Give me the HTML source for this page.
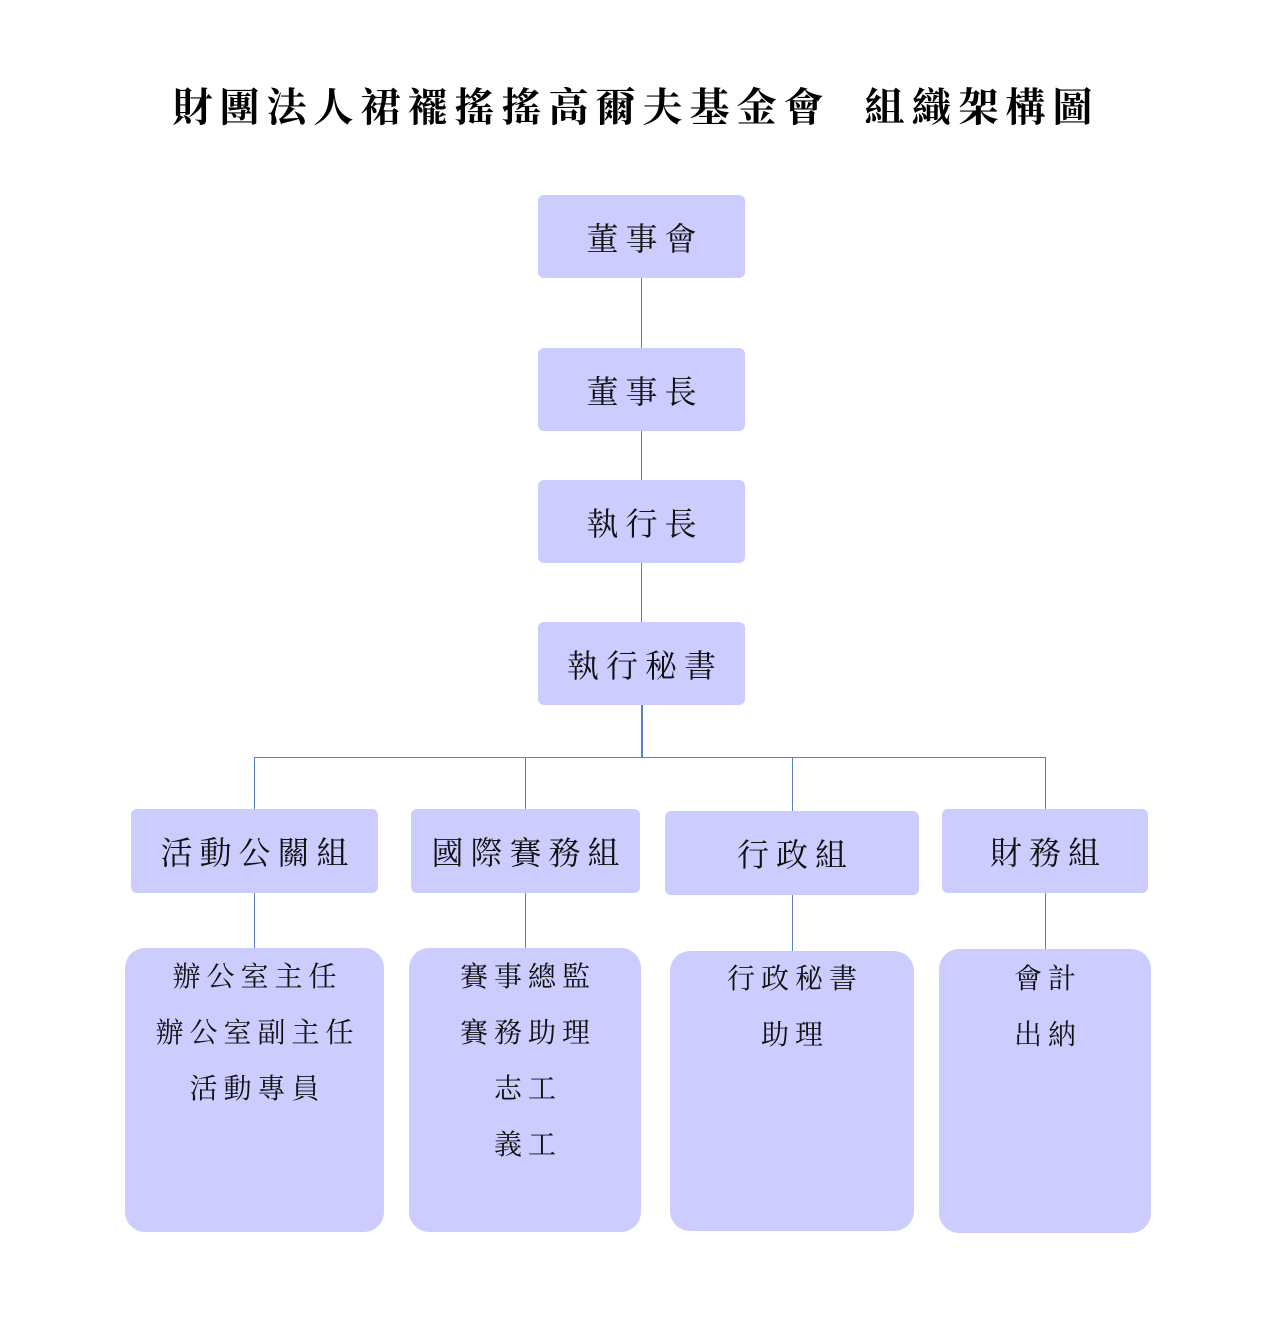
<!DOCTYPE html>
<html><head><meta charset="utf-8"><style>
body{margin:0;width:1265px;height:1344px;background:#fff;position:relative;font-family:"Liberation Serif","Noto Serif CJK SC",serif;overflow:hidden}
.b{position:absolute;background:#ccccff;border-radius:6px;display:flex;align-items:center;justify-content:center;font-size:32px;letter-spacing:7px;color:#111;padding-left:7px;box-sizing:border-box}
.l{position:absolute;background:#ccccff;border-radius:20px;text-align:center;font-size:28px;line-height:56px;letter-spacing:6px;padding-left:6px;color:#111;box-sizing:border-box}
.v{position:absolute;width:1px;background:#5b7fc0}
.h{position:absolute;height:1px;background:#5b7fc0}
.t{position:absolute;left:0;width:1265px;top:76px;text-align:center;font-size:40px;font-weight:bold;letter-spacing:7px;padding-left:7px;box-sizing:border-box;white-space:pre}
</style></head><body>
<div class="t">財團法人裙襬搖搖高爾夫基金會  組織架構圖</div>
<div class="v" style="left:641px;top:278px;height:429px"></div>
<div class="v" style="left:641px;top:705px;height:53px;width:2px"></div>
<div class="h" style="left:254px;top:757px;width:792px"></div>
<div class="v" style="left:254px;top:757px;height:52px"></div>
<div class="v" style="left:525px;top:757px;height:52px"></div>
<div class="v" style="left:792px;top:757px;height:54px"></div>
<div class="v" style="left:1045px;top:757px;height:52px"></div>
<div class="v" style="left:254px;top:893px;height:56px"></div>
<div class="v" style="left:525px;top:893px;height:56px"></div>
<div class="v" style="left:792px;top:895px;height:56px"></div>
<div class="v" style="left:1045px;top:893px;height:56px"></div>
<div class="b" style="left:538px;top:195px;width:207px;height:83px">董事會</div>
<div class="b" style="left:538px;top:348px;width:207px;height:83px">董事長</div>
<div class="b" style="left:538px;top:480px;width:207px;height:83px">執行長</div>
<div class="b" style="left:538px;top:622px;width:207px;height:83px">執行秘書</div>
<div class="b" style="left:131px;top:809px;width:247px;height:84px">活動公關組</div>
<div class="b" style="left:411px;top:809px;width:229px;height:84px">國際賽務組</div>
<div class="b" style="left:665px;top:811px;width:254px;height:84px">行政組</div>
<div class="b" style="left:942px;top:809px;width:206px;height:84px">財務組</div>
<div class="l" style="left:125px;top:948px;width:259px;height:284px"><div style="padding-top:2px">辦公室主任<br>辦公室副主任<br>活動專員</div></div>
<div class="l" style="left:409px;top:948px;width:232px;height:284px"><div style="padding-top:2px">賽事總監<br>賽務助理<br>志工<br>義工</div></div>
<div class="l" style="left:670px;top:951px;width:244px;height:280px"><div style="padding-top:1px">行政秘書<br>助理</div></div>
<div class="l" style="left:939px;top:949px;width:212px;height:284px"><div style="padding-top:3px">會計<br>出納</div></div>
</body></html>
